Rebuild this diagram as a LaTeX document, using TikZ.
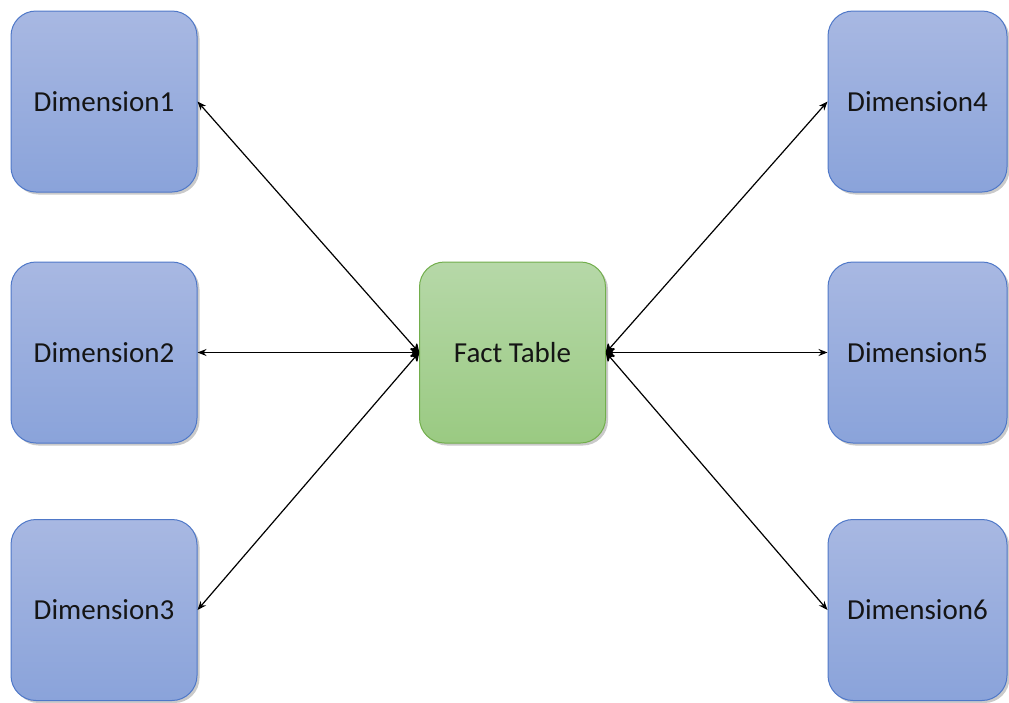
\documentclass[tikz,border=0pt]{standalone}
\usepackage{fontspec}
\setmainfont{Carlito}
\usetikzlibrary{arrows.meta,shadows}
\definecolor{dimtop}{HTML}{A8B8E2}
\definecolor{dimbot}{HTML}{8AA3DA}
\definecolor{dimline}{HTML}{4F78C8}
\definecolor{facttop}{HTML}{B6D8A8}
\definecolor{factbot}{HTML}{9ACA82}
\definecolor{factline}{HTML}{72AE4C}
\definecolor{ink}{HTML}{151515}
\tikzset{
  box/.style={rounded corners=25pt, minimum width=186pt, minimum height=181pt,
    inner sep=0pt, line width=1pt, font=\fontsize{29}{34}\selectfont, text=ink,
    drop shadow={shadow xshift=2.5pt, shadow yshift=-2.5pt, opacity=0.35, fill=black!60}},
  dimbox/.style={box, draw=dimline, top color=dimtop, bottom color=dimbot},
  rdimbox/.style={dimbox, minimum width=179pt},
  factbox/.style={box, draw=factline, top color=facttop, bottom color=factbot},
  link/.style={{Stealth[length=10pt,width=11pt,round]}-{Stealth[length=9pt,width=7pt]}, line width=1.2pt, black}
}
\begin{document}
\begin{tikzpicture}[x=1pt,y=-1pt]
  \useasboundingbox (0,0) rectangle (1009,702);
  \node[dimbox] (d1) at (104,101.5) {Dimension1};
  \node[dimbox] (d2) at (104,352.5) {Dimension2};
  \node[dimbox] (d3) at (104,610) {Dimension3};
  \node[rdimbox] (d4) at (917.5,101.5) {Dimension4};
  \node[rdimbox] (d5) at (917.5,352.5) {Dimension5};
  \node[rdimbox] (d6) at (917.5,610) {Dimension6};
  \node[factbox] (f) at (512.5,352.5) {Fact Table};
  \draw[link] (f.west) -- (d1.east);
  \draw[link] (f.west) -- (d2.east);
  \draw[link] (f.west) -- (d3.east);
  \draw[link] (f.east) -- (d4.west);
  \draw[link] (f.east) -- (d5.west);
  \draw[link] (f.east) -- (d6.west);
\end{tikzpicture}
\end{document}
